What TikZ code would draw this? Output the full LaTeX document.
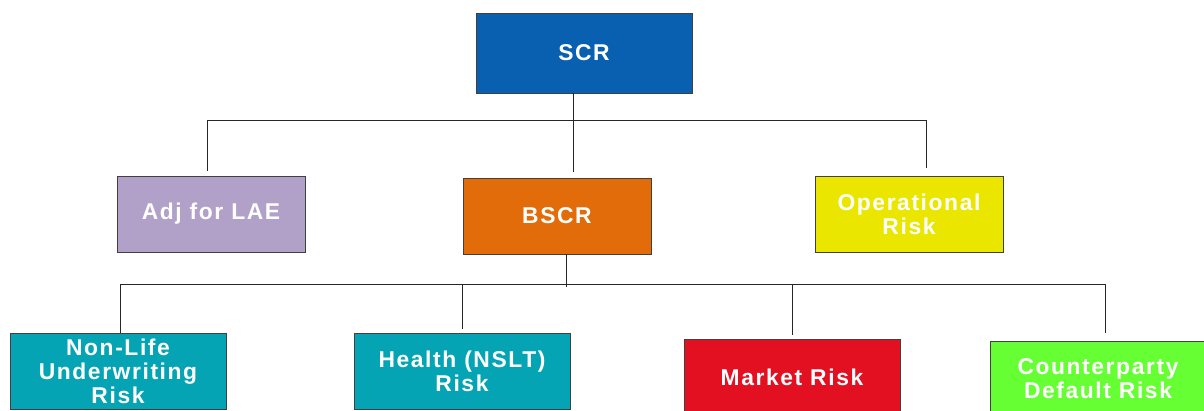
\documentclass[tikz,border=0pt]{standalone}
\usepackage{fontspec}
\newfontfamily\boxfont[LetterSpace=7]{Liberation Sans}
\usetikzlibrary{positioning}

\definecolor{scrblue}{HTML}{0A60B0}
\definecolor{laepurple}{HTML}{B1A0C7}
\definecolor{bscrorange}{HTML}{E36C0A}
\definecolor{opyellow}{HTML}{EAE600}
\definecolor{modteal}{HTML}{04A4B5}
\definecolor{mktred}{HTML}{E31021}
\definecolor{cptgreen}{HTML}{66FF33}

\begin{document}
\begin{tikzpicture}
[
    x=0.02cm, y=-0.02cm,
    % One unit is one pixel of the reference, y runs downwards
    % Boxes: SCR, then ADJ / BSCR / OPR, then NLU / HLT / MKT / CDR
]

%=================================== Start ===================================
\tikzstyle{box}  = [draw=black!75, line width=0.5pt, text=white, align=center,
                    font=\boxfont\bfseries\fontsize{13pt}{13.7pt}\selectfont,
                    minimum width=3.76cm, minimum height=1.52cm, inner sep=0pt]
\tikzstyle{wide} = [box, minimum width=4.32cm]
\tikzstyle{link} = [draw=black!85, line width=0.55pt]

\clip (0,0) rectangle (1204,410);

{
    % Top level
    \node[wide, fill=scrblue, minimum height=1.6cm] (SCR) at (584,53) {SCR};

    % Second level
    \node[box, fill=laepurple]  (ADJ)  at (211,214) {Adj for LAE};
    \node[box, fill=bscrorange] (BSCR) at (557,216) {BSCR};
    \node[box, fill=opyellow]   (OPR)  at (909,214) {Operational\\Risk};

    % Third level
    \node[wide, fill=modteal]  (NLU) at (118,371)  {Non-Life\\Underwriting\\Risk};
    \node[wide, fill=modteal]  (HLT) at (462,371)  {Health (NSLT)\\Risk};
    \node[wide, fill=mktred]   (MKT) at (792,377)  {Market Risk};
    \node[wide, fill=cptgreen] (CDR) at (1098,379) {Counterparty\\Default Risk};

    % Bus coordinates
    \coordinate (bus1-l) at (207,120);
    \coordinate (bus1-m) at (573,120);
    \coordinate (bus1-r) at (926,120);
    \coordinate (bus2-l) at (120,284);
    \coordinate (bus2-m) at (566,284);
    \coordinate (bus2-r) at (1105,284);

    % SCR -> second level
    \draw[link, shorten >=0.12cm] (SCR.south -| bus1-m) -- (BSCR.north -| bus1-m);
    \draw[link, shorten <=0.1cm, shorten >=0.16cm]
        (ADJ.north -| bus1-l) -- (bus1-l) -- (bus1-r) -- (OPR.north -| bus1-r);

    % BSCR -> third level
    \draw[link] (BSCR.south -| bus2-m) -- ([yshift=-0.06cm]bus2-m);
    \draw[link, shorten >=0.15cm]
        (NLU.north -| bus2-l) -- (bus2-l) -- (bus2-r) -- (CDR.north -| bus2-r);
    \foreach \n in {HLT, MKT}
        \draw[link, shorten <=0.08cm] (\n.north) -- (\n.north |- bus2-l);
}
%==================================== END ====================================

\end{tikzpicture}
\end{document}
